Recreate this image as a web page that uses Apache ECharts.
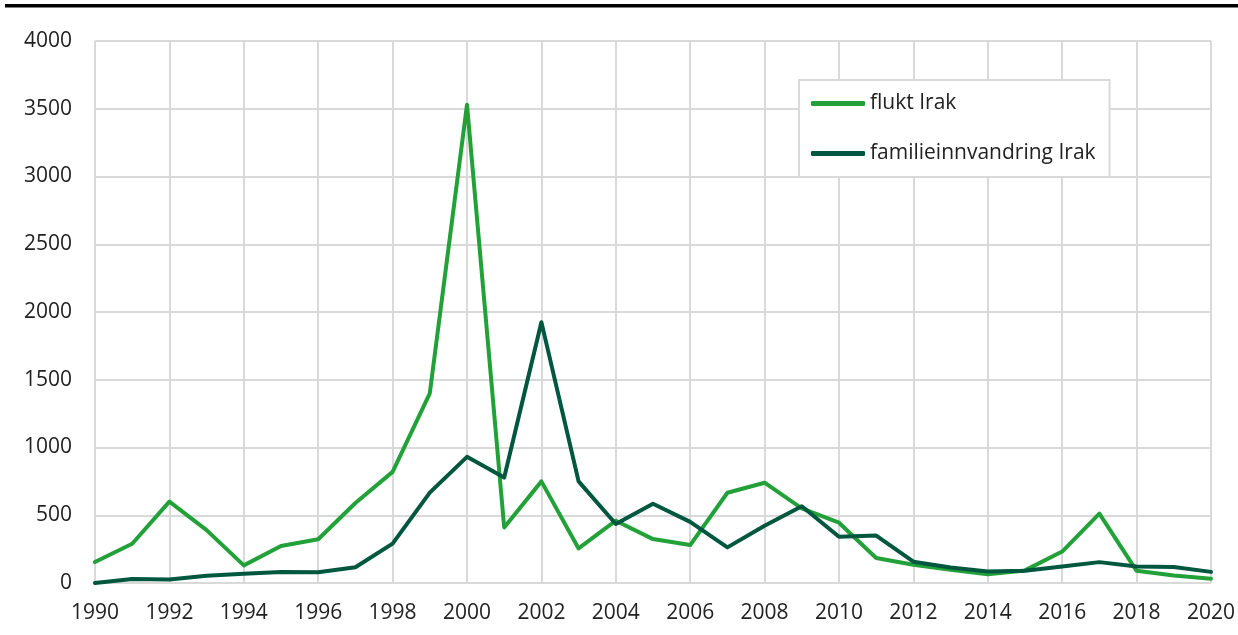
<!DOCTYPE html>
<html>
<head>
<meta charset="utf-8">
<script src="https://cdn.jsdelivr.net/npm/echarts@6/dist/echarts.min.js"></script>
<style>
html,body{margin:0;padding:0;background:#fff;}
#chart{width:1238px;height:635px;}
</style>
</head>
<body>
<div id="chart"></div>
<script>
const years = [1990,1991,1992,1993,1994,1995,1996,1997,1998,1999,2000,2001,2002,2003,2004,2005,2006,2007,2008,2009,2010,2011,2012,2013,2014,2015,2016,2017,2018,2019,2020];
const fluktIrak = [155,290,600,390,130,273,323,590,820,1400,3530,410,750,255,460,324,280,666,740,550,445,185,135,98,65,93,232,512,90,56,32];
const familieIrak = [0,30,25,54,69,81,79,116,291,667,931,778,1925,750,435,585,451,263,422,566,341,350,157,115,85,90,122,154,122,118,82];
const seriesNames = ['flukt Irak','familieinnvandring Irak'];
const yTicks = {min:0, max:4000, interval:500};
const xTicks = {min:1990, max:2020, interval:2};

const font = '"Open Sans", "Noto Sans", sans-serif';
const chart = echarts.init(document.getElementById('chart'), null, {renderer:'canvas'});
const pairs = arr => years.map((y,i)=>[y, arr[i]]);
chart.setOption({
  animation:false,
  backgroundColor:'#fff',
  textStyle:{fontFamily:font},
  graphic:[{type:'rect', shape:{x:5,y:4,width:1233,height:3.5}, style:{fill:'#000'}}],
  grid:{left:95,right:26,top:41,bottom:52,containLabel:false},
  legend:{
    orient:'vertical', left:799, top:80,
    padding:[13,14,13,12],
    backgroundColor:'#fff', borderColor:'#d9d9d9', borderWidth:2,
    itemWidth:54, itemHeight:5, itemGap:29,
    icon:'roundRect',
    textStyle:{fontFamily:font, fontSize:21, color:'#222', padding:[0,0,0,0]},
    data:seriesNames
  },
  xAxis:{
    type:'value', min:xTicks.min, max:xTicks.max, interval:xTicks.interval,
    axisLine:{show:false}, axisTick:{show:false},
    axisLabel:{fontFamily:font, fontSize:21, color:'#222', margin:20, formatter:v=>String(v)},
    splitLine:{show:true, lineStyle:{color:'#d9d9d9', width:2}}
  },
  yAxis:{
    type:'value', min:yTicks.min, max:yTicks.max, interval:yTicks.interval,
    axisLine:{show:false}, axisTick:{show:false},
    axisLabel:{fontFamily:font, fontSize:21, color:'#222', margin:23, formatter:v=>String(v)},
    splitLine:{show:true, lineStyle:{color:'#d9d9d9', width:2}}
  },
  series:[
    {name:seriesNames[0], type:'line', data:pairs(fluktIrak), showSymbol:false, symbol:'none',
     color:'#22a139', lineStyle:{width:4, color:'#22a139', cap:'round', join:'round'}, z:2},
    {name:seriesNames[1], type:'line', data:pairs(familieIrak), showSymbol:false, symbol:'none',
     color:'#00573f', lineStyle:{width:4, color:'#00573f', cap:'round', join:'round'}, z:3}
  ]
});
</script>
</body>
</html>
